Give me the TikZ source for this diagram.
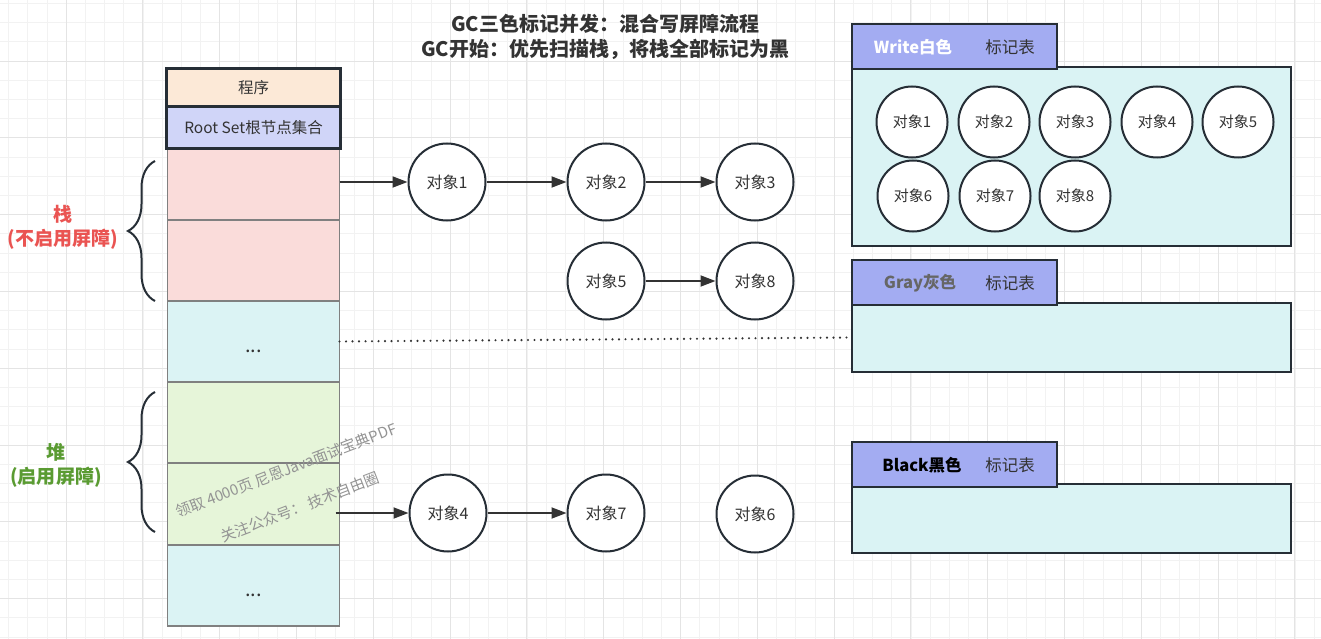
\documentclass[tikz,border=0pt]{standalone}
\usepackage{fontspec}
\setmainfont{Noto Sans CJK SC}
\usetikzlibrary{arrows.meta, decorations.pathreplacing}

\definecolor{linedark}{HTML}{262E36}
\definecolor{textdark}{HTML}{333333}
\definecolor{progfill}{HTML}{FCE9D7}
\definecolor{rootfill}{HTML}{D0D5F8}
\definecolor{stackfill}{HTML}{FADCDA}
\definecolor{heapfill}{HTML}{E6F5D9}
\definecolor{restfill}{HTML}{DBF3F4}
\definecolor{tabfill}{HTML}{A3ACF2}
\definecolor{markfill}{HTML}{DAF3F4}
\definecolor{gridminor}{HTML}{F2F2F2}
\definecolor{gridmajor}{HTML}{E4E4E4}
\definecolor{stackred}{HTML}{EA5452}
\definecolor{heapgreen}{HTML}{5A9B32}
\definecolor{markgray}{HTML}{666666}

\begin{document}
\begin{tikzpicture}[x=1pt, y=-1pt,
  cell/.style={draw=gray, line width=1.3pt, fill=#1, minimum width=172pt,
    inner sep=0pt, outer sep=0pt, text=textdark, font=\fontsize{20}{22}\selectfont},
  rootbox/.style={draw=linedark, line width=2.4pt, fill=#1, minimum width=174pt,
    inner sep=0pt, text=textdark, font=\fontsize{15.5}{17}\selectfont},
  obj/.style={circle, draw=linedark, line width=2pt, fill=white, minimum size=77pt,
    inner sep=0pt, text=textdark, font=\fontsize{16}{18}\selectfont},
  markobj/.style={obj, minimum size=71pt, font=\fontsize{15}{17}\selectfont},
  link/.style={draw=textdark, line width=1.8pt, -{Triangle[length=15pt, width=11pt]}},
  markbox/.style={draw=linedark, line width=2.2pt, fill=markfill, minimum width=439pt,
    inner sep=0pt},
  marktab/.style={draw=linedark, line width=2.2pt, fill=tabfill, minimum width=205pt,
    minimum height=45pt, inner sep=0pt},
  tabtext/.style={font=\fontsize{16.5}{18}\selectfont, text=textdark},
  sidetext/.style={align=center, font=\fontsize{19}{24}\selectfont\bfseries},
  watermark/.style={font=\fontsize{15}{17}\selectfont, text=gray!85, rotate=21}]

		% Background and grid
		\fill[white] (0,0) rectangle (1321,639);
		\useasboundingbox (0,0) rectangle (1321,639);
		\foreach \i in {0,...,68}
			\draw[gridminor, line width=0.7pt] (8.6+\i*19.2, 0) -- ++(0, 639);
		\foreach \i in {0,...,33}
			\draw[gridminor, line width=0.7pt] (0, 3.4+\i*19.2) -- ++(1321, 0);
		\foreach \i in {0,...,16}
			\draw[gridmajor, line width=0.9pt] (66+\i*76.8, 0) -- ++(0, 639);
		\foreach \i in {0,...,7}
			\draw[gridmajor, line width=0.9pt] (0, 61+\i*76.8) -- ++(1321, 0);

		% Title
		\node[align=center, text=textdark, font=\fontsize{20}{25}\selectfont\bfseries] (title) at (605, 37)
			{GC三色标记并发：混合写屏障流程\\GC开始：优先扫描栈，将栈全部标记为黑};

		% Stack and heap column
		\node[cell=stackfill, minimum height=71pt] (stackA) at (253.5, 184.5) {};
		\node[cell=stackfill, minimum height=81pt] (stackB) at (253.5, 260.5) {};
		\node[cell=restfill, minimum height=81pt] (restA) at (253.5, 341.5) {};
		\node[cell=heapfill, minimum height=81pt] (heapA) at (253.5, 422.5) {};
		\node[cell=heapfill, minimum height=82pt] (heapB) at (253.5, 504) {};
		\node[cell=restfill, minimum height=81pt] (restB) at (253.5, 585.5) {};
		\node[cell=restfill, draw=none, fill=none] (restAdots) at ([yshift=-10pt]restA.center) {...};
		\node[cell=restfill, draw=none, fill=none] (restBdots) at ([yshift=-10pt]restB.center) {...};
		\node[rootbox=progfill, minimum height=38pt] (prog) at (253.5, 87.5) {程序};
		\node[rootbox=rootfill, minimum height=42pt] (root) at (253.5, 127.5) {Root Set根节点集合};

		% Braces
		\coordinate (stackTop) at (155, 161);
		\coordinate (stackBot) at (155, 301);
		\coordinate (heapTop) at (155, 392);
		\coordinate (heapBot) at (155, 532);
		\draw[decorate, decoration={brace, amplitude=27pt}, line width=2pt, linedark] (stackBot) -- (stackTop);
		\draw[decorate, decoration={brace, amplitude=27pt}, line width=2pt, linedark] (heapBot) -- (heapTop);
		\node[sidetext, text=stackred] (stackLabel) at (63, 227) {栈\\(不启用屏障)};
		\node[sidetext, text=heapgreen] (heapLabel) at (56, 465) {堆\\(启用屏障)};

		% Watermark
		\node[watermark] (markA) at (286, 470) {领取 4000页 尼恩Java面试宝典PDF};
		\node[watermark] (markB) at (300, 507) {关注公众号： 技术自由圈};

		% Objects
		\node[obj] (obj1) at (447, 182) {对象1};
		\node[obj] (obj2) at (606, 182) {对象2};
		\node[obj] (obj3) at (755, 182) {对象3};
		\node[obj] (obj5) at (606, 281) {对象5};
		\node[obj] (obj8) at (755, 281) {对象8};
		\node[obj] (obj4) at (448, 513) {对象4};
		\node[obj] (obj7) at (606, 513) {对象7};
		\node[obj] (obj6) at (755, 514) {对象6};

		% References
		\draw[link] (stackA.east |- obj1) -- (obj1);
		\draw[link] (obj1) -- (obj2);
		\draw[link] (obj2) -- (obj3);
		\draw[link] (obj5) -- (obj8);
		\draw[link] ([xshift=-4pt]heapB.east |- obj4) -- (obj4);
		\draw[link] (obj4) -- (obj7);

		% Mark tables
		\node[markbox, minimum height=179pt] (whiteBody) at (1071.5, 156.5) {};
		\node[marktab] (whiteTab) at (954.5, 46.5) {};
		\node[tabtext, text=white, font=\fontsize{16.5}{18}\selectfont\bfseries] (whiteName) at (913, 47) {Write白色};
		\node[tabtext] (whiteTag) at (1010, 47) {标记表};

		\node[markbox, minimum height=69pt] (grayBody) at (1071.5, 337.5) {};
		\node[marktab] (grayTab) at (954.5, 282.5) {};
		\node[tabtext, text=markgray, font=\fontsize{16.5}{18}\selectfont\bfseries] (grayName) at (920, 283) {Gray灰色};
		\node[tabtext] (grayTag) at (1010, 283) {标记表};

		\node[markbox, minimum height=69pt] (blackBody) at (1071.5, 518.5) {};
		\node[marktab] (blackTab) at (954.5, 464.5) {};
		\node[tabtext, text=black, font=\fontsize{16.5}{18}\selectfont\bfseries] (blackName) at (922, 465) {Black黑色};
		\node[tabtext] (blackTag) at (1010, 465) {标记表};

		% White set
		\foreach \n/\x in {1/912, 2/994, 3/1075, 4/1157, 5/1238}
			\node[markobj] (white\n) at (\x, 122) {对象\n};
		\foreach \n/\x in {6/913, 7/995, 8/1075}
			\node[markobj] (white\n) at (\x, 196) {对象\n};

		% Dotted link to gray set
		\draw[textdark, line width=2.4pt, line cap=round, dash pattern=on 0pt off 6.5pt] (restA.east) -- (grayBody.west);
	\end{tikzpicture}
\end{document}
